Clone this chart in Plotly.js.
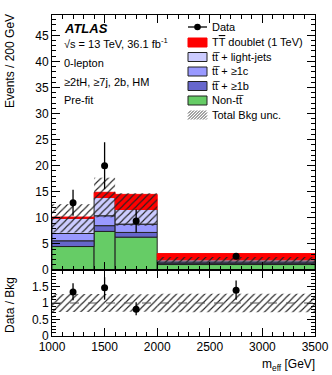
<!DOCTYPE html>
<html>
<head>
<meta charset="utf-8">
<script src="https://cdn.plot.ly/plotly-3.0.1.min.js"></script>
<style>html,body{margin:0;padding:0;background:#fff;}#chart{width:332px;height:375px;}</style>
</head>
<body>
<div id="chart"></div>
<script>
// ---- data (Events / 200 GeV) ----
const binLo = [1000, 1400, 1600, 2000];
const binHi = [1400, 1600, 2000, 3500];
const nonTT   = [4.5, 7.4, 6.3, 1.05];
const ttB     = [1.1, 1.1, 0.9, 0.25];
const ttC     = [1.4, 1.9, 1.6, 0.25];
const ttLight = [2.9, 3.5, 2.8, 0.4];
const signal  = [0.25, 1.0, 2.9, 1.2];
const bkgErr  = [2.7, 3.8, 3.1, 0.54];
const dataVals = [12.9, 20.0, 9.4, 2.64];
const dataErr  = [2.5, 4.5, 2.2, 0.6];
const ratioVals  = [1.33, 1.46, 0.81, 1.39];
const ratioErrUp = [0.27, 0.32, 0.21, 0.29];
const ratioErrDn = [0.25, 0.36, 0.18, 0.29];
const xTicks = [1000, 1500, 2000, 2500, 3000, 3500];
const legendLabels = ["Data", "T<span style=\"text-decoration:overline\">T</span> doublet (1 TeV)", "tt\u0305 + light-jets", "tt\u0305 + \u22651c", "tt\u0305 + \u22651b", "Non-tt\u0305", "Total Bkg unc."];

// ---- derived ----
const centers = binLo.map((l, i) => (l + binHi[i]) / 2);
const widths = binLo.map((l, i) => binHi[i] - l);
const stackDefs = [
  {vals: nonTT, color: '#66cc66', line: '#222'},
  {vals: ttB, color: '#6666cc', line: '#222'},
  {vals: ttC, color: '#9999ff', line: '#222'},
  {vals: ttLight, color: '#ccccff', line: '#222'},
  {vals: signal, color: '#ff0000', line: '#ff0000'}
];
const cum = binLo.map(() => 0);
const traces = [];
const bkgTot = [];
stackDefs.forEach((s, k) => {
  const base = cum.slice();
  traces.push({type: 'bar', x: centers, y: s.vals, base: base, width: widths,
    xaxis: 'x', yaxis: 'y', showlegend: false, hoverinfo: 'skip',
    marker: {color: s.color, line: {color: s.line, width: 1}}});
  s.vals.forEach((v, i) => cum[i] += v);
  if (k === 3) cum.forEach((v, i) => bkgTot[i] = v);
});
const hatch = {shape: '/', fgcolor: '#222', bgcolor: 'rgba(0,0,0,0)', size: 5, solidity: 0.22};
traces.push({type: 'bar', x: centers, y: bkgErr.map(e => 2 * e), base: bkgTot.map((t, i) => t - bkgErr[i]),
  width: widths, xaxis: 'x', yaxis: 'y', showlegend: false, hoverinfo: 'skip',
  marker: {color: 'rgba(0,0,0,0)', line: {width: 0}, pattern: hatch}});
const relErr = bkgErr.map((e, i) => e / bkgTot[i]);
traces.push({type: 'bar', x: centers, y: relErr.map(e => 2 * e), base: relErr.map(e => 1 - e),
  width: widths, xaxis: 'x2', yaxis: 'y2', showlegend: false, hoverinfo: 'skip',
  marker: {color: 'rgba(0,0,0,0)', line: {width: 0}, pattern: hatch}});
traces.push({type: 'scatter', mode: 'markers', x: centers, y: dataVals, xaxis: 'x', yaxis: 'y',
  showlegend: false, marker: {color: '#000', size: 7},
  error_y: {type: 'data', array: dataErr, color: '#000', thickness: 1.3, width: 0}});
traces.push({type: 'scatter', mode: 'markers', x: centers, y: ratioVals, xaxis: 'x2', yaxis: 'y2',
  showlegend: false, marker: {color: '#000', size: 7},
  error_y: {type: 'data', symmetric: false, array: ratioErrUp, arrayminus: ratioErrDn, color: '#000', thickness: 1.3, width: 0}});

// ---- geometry helpers (pixel -> paper) ----
const L = 52, R = 17, T = 15, B = 39, W = 332, H = 375;
const pw = W - L - R, ph = H - T - B;
const px = v => (v - L) / pw;
const py = v => (H - B - v) / ph;
const mainBottom = py(270);

const FONT = 'Liberation Sans, Arial, Helvetica, sans-serif';
const annotations = [];
const shapes = [];
function txt(text, x, y, size, opts) {
  annotations.push(Object.assign({text: text, x: px(x), y: py(y), xref: 'paper', yref: 'paper',
    xanchor: 'left', yanchor: 'middle', showarrow: false, font: {family: FONT, size: size, color: '#000'}}, opts || {}));
}
txt('<b><i>ATLAS</i></b>', 62, 28, 13);
txt('\u221As = 13 TeV, 36.1 fb<sup>-1</sup>', 62, 43, 11);
txt('0-lepton', 62, 63, 11);
txt('\u22652tH, \u22657j, 2b, HM', 62, 82, 11);
txt('Pre-fit', 62, 100, 11);
txt('Events / 200 GeV', 10, 61, 12, {xanchor: 'center', textangle: -90});
txt('Data / Bkg', 10, 305, 12, {xanchor: 'center', textangle: -90});
txt('m<sub>eff</sub> [GeV]', 317, 365, 12, {xanchor: 'right'});

// legend
const rowY = [27, 42.5, 57, 71.5, 86, 100.5, 115];
const bx0 = 188, bx1 = 207;
legendLabels.forEach((lab, i) => txt(lab, 210, rowY[i], 11));
shapes.push({type: 'line', xref: 'paper', yref: 'paper', x0: px(bx0), x1: px(bx1), y0: py(rowY[0]), y1: py(rowY[0]), line: {color: '#000', width: 1.3}});
shapes.push({type: 'circle', xref: 'paper', yref: 'paper', x0: px(197.5 - 3.3), x1: px(197.5 + 3.3), y0: py(rowY[0] - 3.3), y1: py(rowY[0] + 3.3), fillcolor: '#000', line: {color: '#000', width: 0}});
stackDefs.slice().reverse().forEach((s, k) => {
  const yc = rowY[k + 1];
  shapes.push({type: 'rect', xref: 'paper', yref: 'paper', x0: px(bx0), x1: px(bx1), y0: py(yc - 4.5), y1: py(yc + 4.5),
    fillcolor: s.color, line: {color: s.color === '#ff0000' ? '#ff0000' : '#222', width: 1}});
});
(function () {
  const yc = rowY[6], ya = yc - 4.5, yb = yc + 4.5, h = yb - ya, w = bx1 - bx0;
  for (let c = -h; c < w; c += 3) {
    const t0 = Math.max(0, -c), t1 = Math.min(h, w - c);
    if (t1 <= t0) continue;
    shapes.push({type: 'line', xref: 'paper', yref: 'paper', x0: px(bx0 + c + t0), y0: py(yb - t0), x1: px(bx0 + c + t1), y1: py(yb - t1), line: {color: '#333', width: 0.9}});
  }
})();
shapes.push({type: 'line', xref: 'x2', yref: 'y2', x0: binLo[0], x1: binHi[binHi.length - 1], y0: 1, y1: 1, line: {color: '#555', width: 1, dash: 'dash'}, layer: 'above'});

const axCommon = {showline: true, linecolor: '#000', linewidth: 1, mirror: 'allticks', ticks: 'inside',
  tickcolor: '#000', showgrid: false, zeroline: false, tickfont: {family: FONT, size: 12, color: '#000'}};

const layout = {
  width: W, height: H, margin: {l: L, r: R, t: T, b: B, pad: 0},
  paper_bgcolor: '#fff', plot_bgcolor: '#fff', barmode: 'overlay', showlegend: false,
  font: {family: FONT, size: 12, color: '#000'},
  xaxis: Object.assign({}, axCommon, {domain: [0, 1], anchor: 'y', matches: 'x2', range: [1000, 3500],
    dtick: 500, tick0: 1000, ticklen: 8, showticklabels: false,
    minor: {dtick: 100, ticklen: 4, ticks: 'inside', tickcolor: '#000'}}),
  yaxis: Object.assign({}, axCommon, {domain: [mainBottom, 1], anchor: 'x', range: [0, 48.9],
    dtick: 5, tick0: 0, ticklen: 8, minor: {dtick: 1, ticklen: 4, ticks: 'inside', tickcolor: '#000'}}),
  xaxis2: Object.assign({}, axCommon, {domain: [0, 1], anchor: 'y2', range: [1000, 3500],
    tickvals: xTicks, ticklen: 8, minor: {dtick: 100, tick0: 1000, ticklen: 4, ticks: 'inside', tickcolor: '#000'}}),
  yaxis2: Object.assign({}, axCommon, {domain: [0, mainBottom], anchor: 'x2', range: [0, 2],
    tickvals: [0, 0.5, 1, 1.5], ticktext: ['0', '0.5', '1', '1.5'], ticklen: 8,
    minor: {tickvals: [0.1,0.2,0.3,0.4,0.6,0.7,0.8,0.9,1.1,1.2,1.3,1.4,1.6,1.7,1.8,1.9], ticklen: 4, ticks: 'inside', tickcolor: '#000'}}),
  annotations: annotations,
  shapes: shapes
};
Plotly.newPlot('chart', traces, layout, {staticPlot: true, displayModeBar: false});
</script>
</body>
</html>
